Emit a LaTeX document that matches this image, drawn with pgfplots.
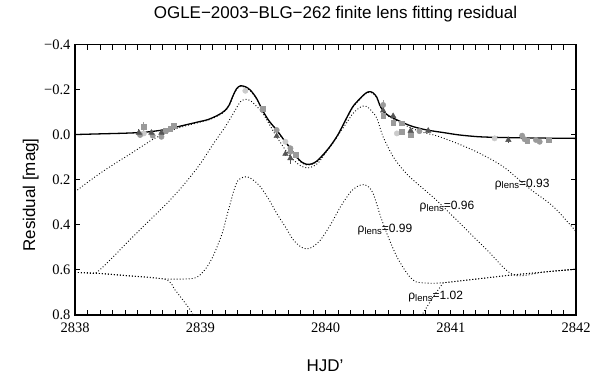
\documentclass[border=0pt]{standalone}
\usepackage{fontspec}
\setmainfont{Liberation Sans}
\newfontfamily\serifnum{Liberation Serif}
\usepackage{pgfplots}
\pgfplotsset{compat=1.18}
\definecolor{lightg}{HTML}{CBCBCB}
\definecolor{midg}{HTML}{9A9A9A}
\definecolor{darkg}{HTML}{555555}
\newcommand{\rlab}[1]{ρ\raisebox{-1.8bp}{\fontsize{9.5bp}{9.5bp}\selectfont lens}=#1}
\begin{document}
\begin{tikzpicture}
\useasboundingbox (0,0) rectangle (605bp,383bp);
\begin{axis}[
  at={(75bp,68bp)}, anchor=south west,
  scale only axis, width=501bp, height=270.7bp,
  xmin=2838, xmax=2842, ymin=-0.4, ymax=0.8, y dir=reverse,
  xtick={2838,2839,2840,2841,2842},
  xticklabels={2838,2839,2840,2841,2842},
  minor x tick num=9,
  ytick={-0.4,-0.2,0,0.2,0.4,0.6,0.8},
  yticklabels={−0.4,−0.2,0.0,0.2,0.4,0.6,0.8},
  tick align=inside,
  major tick length=5.5bp, minor tick length=5.5bp,
  tick style={black, line width=0.8bp},
  axis line style={line width=1.1bp},
  tick label style={font=\serifnum\fontsize{14.5bp}{14.5bp}\selectfont},
  xticklabel style={yshift=-4bp},
  yticklabel style={xshift=-1bp},
]
% solid model
\addplot[black, line width=1.3bp, smooth, tension=0.5] coordinates {
(2838.00,0.000) (2838.20,-0.003) (2838.40,-0.006) (2838.55,-0.010) (2838.70,-0.020)
(2838.80,-0.032) (2838.90,-0.045) (2839.00,-0.058) (2839.06,-0.066) (2839.12,-0.080)
(2839.17,-0.095) (2839.20,-0.108) (2839.23,-0.130) (2839.26,-0.170) (2839.29,-0.203)
(2839.32,-0.216) (2839.36,-0.212) (2839.40,-0.197) (2839.45,-0.160) (2839.50,-0.105)
(2839.55,-0.060) (2839.61,-0.020) (2839.67,0.025) (2839.72,0.061) (2839.77,0.100)
(2839.81,0.122) (2839.85,0.132) (2839.89,0.130) (2839.93,0.118) (2839.98,0.090)
(2840.04,0.050) (2840.10,0.000) (2840.17,-0.075) (2840.22,-0.125) (2840.28,-0.162)
(2840.32,-0.183) (2840.35,-0.190) (2840.38,-0.185) (2840.41,-0.165) (2840.43,-0.135)
(2840.46,-0.105) (2840.50,-0.085) (2840.56,-0.068) (2840.62,-0.052) (2840.70,-0.035)
(2840.81,-0.020) (2840.95,-0.008) (2841.07,0.002) (2841.23,0.010) (2841.40,0.013)
(2841.60,0.015) (2841.80,0.016) (2842.00,0.017)};
% rho = 0.93
\addplot[black, line width=0.9bp, dash pattern=on 0.9bp off 2.1bp, smooth, tension=0.5] coordinates {
(2838.00,0.254) (2838.10,0.212) (2838.20,0.172) (2838.32,0.128) (2838.43,0.090)
(2838.53,0.054) (2838.62,0.022) (2838.70,0.000) (2838.78,-0.020) (2838.88,-0.038)
(2839.00,-0.055) (2839.06,-0.063) (2839.12,-0.077) (2839.17,-0.092) (2839.20,-0.105)
(2839.23,-0.127) (2839.26,-0.167) (2839.29,-0.200) (2839.32,-0.213) (2839.36,-0.209)
(2839.40,-0.194) (2839.45,-0.157) (2839.50,-0.102) (2839.55,-0.057) (2839.61,-0.017)
(2839.67,0.028) (2839.72,0.064) (2839.77,0.103) (2839.81,0.125) (2839.85,0.135)
(2839.89,0.133) (2839.93,0.121) (2839.98,0.093) (2840.04,0.053) (2840.10,0.003)
(2840.17,-0.072) (2840.22,-0.122) (2840.28,-0.159) (2840.32,-0.180) (2840.35,-0.187)
(2840.38,-0.182) (2840.41,-0.162) (2840.43,-0.132) (2840.46,-0.102) (2840.50,-0.082)
(2840.56,-0.064) (2840.62,-0.046) (2840.70,-0.025) (2840.80,-0.006) (2840.89,0.006)
(2841.05,0.039) (2841.23,0.083) (2841.42,0.143) (2841.63,0.240) (2841.82,0.320)
(2842.00,0.430)};
% rho = 0.96
\addplot[black, line width=0.9bp, dash pattern=on 0.9bp off 2.1bp, smooth, tension=0.5] coordinates {
(2838.00,0.611) (2838.10,0.613) (2838.17,0.612) (2838.30,0.545) (2838.41,0.482)
(2838.55,0.405) (2838.68,0.335) (2838.76,0.290) (2838.88,0.215) (2839.00,0.130)
(2839.10,0.045) (2839.20,-0.035) (2839.28,-0.109) (2839.32,-0.145) (2839.36,-0.156)
(2839.40,-0.150) (2839.45,-0.125) (2839.50,-0.094) (2839.61,0.010) (2839.72,0.098)
(2839.80,0.138) (2839.86,0.148) (2839.92,0.135) (2839.96,0.113) (2840.09,0.010)
(2840.16,-0.045) (2840.22,-0.094) (2840.28,-0.122) (2840.32,-0.126) (2840.36,-0.110)
(2840.41,-0.072) (2840.46,0.010) (2840.54,0.098) (2840.62,0.157) (2840.70,0.202)
(2840.87,0.283) (2841.02,0.364) (2841.29,0.512) (2841.50,0.622) (2841.75,0.609)
(2842.00,0.597)};
% rho = 0.99
\addplot[black, line width=0.9bp, dash pattern=on 0.9bp off 2.1bp, smooth, tension=0.5] coordinates {
(2838.00,0.611) (2838.17,0.615) (2838.40,0.625) (2838.72,0.640) (2838.90,0.640)
(2838.96,0.635) (2839.00,0.622) (2839.05,0.590) (2839.10,0.542) (2839.14,0.490)
(2839.18,0.430) (2839.21,0.365) (2839.24,0.305) (2839.27,0.245) (2839.30,0.205)
(2839.34,0.190) (2839.38,0.188) (2839.43,0.205) (2839.48,0.231) (2839.55,0.290)
(2839.61,0.349) (2839.68,0.410) (2839.74,0.465) (2839.80,0.497) (2839.85,0.507)
(2839.90,0.497) (2839.96,0.467) (2840.04,0.400) (2840.12,0.320) (2840.20,0.255)
(2840.26,0.228) (2840.31,0.222) (2840.35,0.235) (2840.38,0.261) (2840.41,0.310)
(2840.44,0.364) (2840.50,0.453) (2840.57,0.542) (2840.65,0.615) (2840.70,0.645)
(2840.75,0.656) (2840.94,0.657) (2841.50,0.622) (2842.00,0.597)};
% rho = 1.02 (two visible pieces)
\addplot[black, line width=0.9bp, dash pattern=on 0.9bp off 2.1bp, smooth, tension=0.5] coordinates {
(2838.00,0.611) (2838.17,0.615) (2838.40,0.625) (2838.72,0.642) (2838.80,0.690)
(2838.87,0.740) (2838.93,0.786) (2838.97,0.830)};
\addplot[black, line width=0.9bp, dash pattern=on 0.9bp off 2.1bp] coordinates {
(2840.75,0.830) (2840.77,0.800) (2840.86,0.719) (2840.94,0.657) (2841.50,0.622) (2842.00,0.597)};
% data: light grey circles
\addplot[only marks, mark=*, mark size=2.7bp, mark options={draw=lightg, fill=lightg}] coordinates {
(2838.55,-0.005) (2839.36,-0.194) (2839.68,0.032) (2840.57,-0.005) (2841.35,0.017)};
% data: mid grey squares
\addplot[only marks, mark=square*, mark size=2.4bp, mark options={draw=midg, fill=midg},
  error bars/.cd, y dir=both, y explicit, error bar style={midg, line width=0.8bp}, error mark=none] coordinates {
(2838.55,-0.035) +- (0,0.02) (2838.72,-0.016) +- (0,0) (2838.76,-0.027) +- (0,0) (2838.79,-0.039) +- (0,0)
(2839.50,-0.113) +- (0,0) (2839.76,0.091) +- (0,0) (2840.46,-0.082) +- (0,0) (2840.54,-0.054) +- (0,0)
(2840.61,-0.050) +- (0,0) (2840.61,-0.012) +- (0,0) (2840.68,0.002) +- (0,0) (2841.61,0.027) +- (0,0)
(2841.78,0.024) +- (0,0)};
% data: mid grey circles
\addplot[only marks, mark=*, mark size=2.7bp, mark options={draw=midg, fill=midg},
  error bars/.cd, y dir=both, y explicit, error bar style={midg, line width=0.8bp}, error mark=none] coordinates {
(2838.52,0.002) +- (0,0) (2838.62,0.005) +- (0,0) (2838.69,0.010) +- (0,0) (2839.61,-0.020) +- (0,0)
(2839.72,0.061) +- (0,0) (2839.72,0.076) +- (0,0) (2840.46,-0.131) +- (0,0.02) (2840.75,-0.015) +- (0,0)
(2841.57,0.005) +- (0,0.01) (2841.59,0.021) +- (0,0) (2841.68,0.024) +- (0,0) (2841.71,0.032) +- (0,0)};
% data: dark grey triangles
\addplot[only marks, mark=triangle*, mark size=3.2bp, mark options={draw=darkg, fill=darkg},
  error bars/.cd, y dir=both, y explicit, error bar style={darkg, line width=0.8bp}, error mark=none] coordinates {
(2838.51,-0.008) +- (0,0.015) (2838.61,-0.008) +- (0,0.01) (2838.69,-0.008) +- (0,0.01)
(2839.61,0.007) +- (0,0.01) (2839.68,0.086) +- (0,0.01) (2839.72,0.105) +- (0,0.025)
(2840.46,-0.106) +- (0,0.01) (2840.54,-0.082) +- (0,0.01) (2840.68,-0.017) +- (0,0.01)
(2840.82,-0.017) +- (0,0.01) (2841.46,0.024) +- (0,0.015)};
% labels
\node[font=\fontsize{12bp}{12bp}\selectfont, inner sep=0pt] at (axis cs:2841.57,0.22) {\rlab{0.93}};
\node[font=\fontsize{12bp}{12bp}\selectfont, inner sep=0pt] at (axis cs:2840.97,0.32) {\rlab{0.96}};
\node[font=\fontsize{12bp}{12bp}\selectfont, inner sep=0pt] at (axis cs:2840.475,0.423) {\rlab{0.99}};
\node[font=\fontsize{12bp}{12bp}\selectfont, inner sep=0pt] at (axis cs:2840.88,0.719) {\rlab{1.02}};
\end{axis}
\node[anchor=base, font=\fontsize{17bp}{17bp}\selectfont] at (335.5bp,364bp) {OGLE−2003−BLG−262 finite lens fitting residual};
\node[anchor=base, font=\fontsize{17bp}{17bp}\selectfont] at (325bp,12bp) {HJD'};
\node[anchor=base, rotate=90, font=\fontsize{17bp}{17bp}\selectfont] at (35bp,188bp) {Residual [mag]};
\end{tikzpicture}
\end{document}
